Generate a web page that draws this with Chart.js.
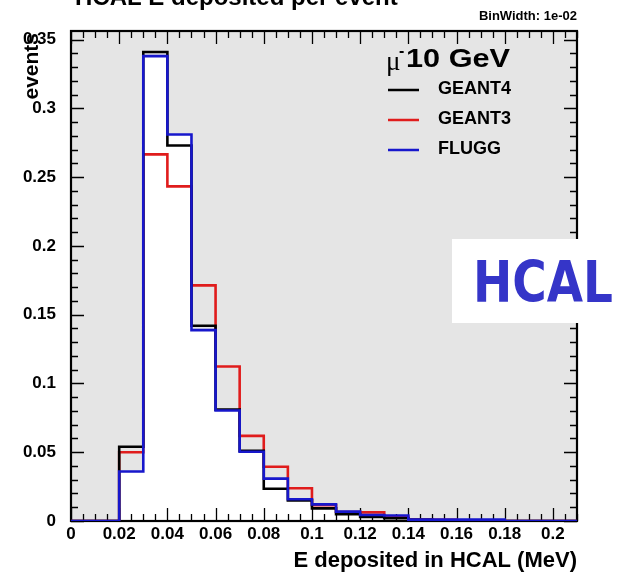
<!DOCTYPE html>
<html>
<head>
<meta charset="utf-8">
<script src="https://cdn.jsdelivr.net/npm/chart.js@4.4.1/dist/chart.umd.min.js"></script>
<style>
  html, body { margin: 0; padding: 0; background: #ffffff; }
  #wrap { width: 619px; height: 576px; position: relative; }
</style>
</head>
<body>
<div id="wrap"><canvas id="c" width="619" height="576"></canvas></div>
<script>
// Bin lower edges (MeV), bin width 0.01
const binEdges = [0.00, 0.01, 0.02, 0.03, 0.04, 0.05, 0.06, 0.07, 0.08, 0.09, 0.10,
                  0.11, 0.12, 0.13, 0.14, 0.15, 0.16, 0.17, 0.18, 0.19, 0.20];
const lastEdge = 0.21;

// Normalised event fractions per bin
const geant4 = [0, 0, 0.054, 0.341, 0.273, 0.142, 0.081, 0.051, 0.0235, 0.015, 0.0092,
                0.005, 0.003, 0.002, 0.0008, 0.0005, 0.0004, 0.0003, 0, 0, 0];
const geant3 = [0, 0, 0.050, 0.2666, 0.2433, 0.1713, 0.1123, 0.0619, 0.0395, 0.0238, 0.0115,
                0.0065, 0.0063, 0.003, 0.001, 0.0008, 0.0005, 0.0003, 0, 0, 0];
const flugg  = [0, 0, 0.036, 0.338, 0.281, 0.1388, 0.0803, 0.0504, 0.0308, 0.0158, 0.0121,
                0.0068, 0.0044, 0.004, 0.001, 0.001, 0.001, 0.001, 0, 0, 0];

const seriesNames = ['GEANT4', 'GEANT3', 'FLUGG'];
const xTickValues = [0, 0.02, 0.04, 0.06, 0.08, 0.10, 0.12, 0.14, 0.16, 0.18, 0.20];
const yTickValues = [0, 0.05, 0.10, 0.15, 0.20, 0.25, 0.30, 0.35];

const COLORS = { GEANT4: '#000000', GEANT3: '#e01c1c', FLUGG: '#1717cc' };
const FONT = '"Liberation Sans", Arial, Helvetica, sans-serif';

// Step outline: one point at each bin's upper edge carrying that bin's value;
// with stepped 'after' the line rises at the lower edge and runs flat to the upper one
function histPoints(values) {
  const pts = [{ x: binEdges[0], y: values[0] }];
  binEdges.forEach((e, i) => {
    const hi = i + 1 < binEdges.length ? binEdges[i + 1] : lastEdge;
    pts.push({ x: hi, y: values[i] });
  });
  return pts;
}

function fmt(v) {
  return String(Number(v.toFixed(3)));
}

// Gray pad inside the frame
const padBackground = {
  id: 'padBackground',
  beforeDraw(chart) {
    const { ctx, chartArea: a } = chart;
    ctx.save();
    ctx.fillStyle = '#ffffff';
    ctx.fillRect(0, 0, chart.width, chart.height);
    ctx.fillStyle = '#e5e5e5';
    ctx.fillRect(a.left, a.top, a.right - a.left, a.bottom - a.top);
    ctx.restore();
  }
};

// Frame with inward-pointing ticks on all four sides (drawn under the histogram lines)
const frameTicks = {
  id: 'frameTicks',
  beforeDatasetsDraw(chart) {
    const { ctx, chartArea: a, scales: { x, y } } = chart;
    ctx.save();
    ctx.strokeStyle = '#000';
    ctx.lineWidth = 1.3;
    ctx.beginPath();
    // x ticks: minor every 0.005, major every 0.02
    for (let k = 0; k <= 42; k++) {
      const v = k * 0.005;
      const px = Math.round(x.getPixelForValue(v)) + 0.5;
      const len = (k % 4 === 0) ? 13 : 7;
      ctx.moveTo(px, a.bottom); ctx.lineTo(px, a.bottom - len);
      ctx.moveTo(px, a.top); ctx.lineTo(px, a.top + len);
    }
    // y ticks: minor every 0.01, major every 0.05
    for (let k = 0; k <= 35; k++) {
      const v = k * 0.01;
      const py = Math.round(y.getPixelForValue(v)) + 0.5;
      const len = (k % 5 === 0) ? 13 : 7;
      ctx.moveTo(a.left, py); ctx.lineTo(a.left + len, py);
      ctx.moveTo(a.right, py); ctx.lineTo(a.right - len, py);
    }
    ctx.stroke();
    ctx.lineWidth = 2.2;
    ctx.strokeRect(a.left, a.top, a.right - a.left, a.bottom - a.top);
    ctx.restore();
  }
};

// Titles, legend and the detector label
const annotations = {
  id: 'annotations',
  afterDraw(chart) {
    const { ctx, chartArea: a } = chart;
    ctx.save();
    ctx.fillStyle = '#000';

    // Histogram title
    ctx.font = 'bold 24px ' + FONT;
    ctx.textAlign = 'left';
    ctx.textBaseline = 'alphabetic';
    ctx.fillText('HCAL E deposited per event', 75, 5);

    // Bin width note
    ctx.font = 'bold 13px ' + FONT;
    ctx.textAlign = 'right';
    ctx.fillText('BinWidth: 1e-02', a.right, 20);

    // Axis titles
    ctx.font = 'bold 22px ' + FONT;
    ctx.textAlign = 'right';
    ctx.fillText('E deposited in HCAL (MeV)', a.right, 567);

    ctx.save();
    ctx.translate(38, a.top + 2);
    ctx.rotate(-Math.PI / 2);
    ctx.font = 'bold 21px ' + FONT;
    ctx.textAlign = 'right';
    ctx.fillText('events', 0, 0);
    ctx.restore();

    // Legend header
    ctx.textAlign = 'left';
    ctx.font = '27px "Liberation Serif", "DejaVu Serif", serif';
    ctx.fillText('\u03bc', 386, 70);
    ctx.font = 'bold 16px ' + FONT;
    ctx.fillText('-', 399, 56);
    ctx.save();
    ctx.font = 'bold 26px ' + FONT;
    const w = ctx.measureText('10 GeV').width;
    ctx.translate(406, 67);
    ctx.scale(104 / w, 1);
    ctx.fillText('10 GeV', 0, 0);
    ctx.restore();

    // Legend entries
    const rows = [90, 120, 150];
    chart.data.datasets.forEach((ds, i) => {
      const yy = rows[i];
      ctx.strokeStyle = ds.borderColor;
      ctx.lineWidth = 2.5;
      ctx.beginPath();
      ctx.moveTo(388, yy); ctx.lineTo(419, yy);
      ctx.stroke();
      ctx.fillStyle = '#000';
      ctx.font = 'bold 18px ' + FONT;
      ctx.textBaseline = 'middle';
      ctx.fillText(ds.label, 438, yy - 1);
    });

    // Detector label box
    ctx.textBaseline = 'alphabetic';
    ctx.fillStyle = '#ffffff';
    ctx.fillRect(452, 239, 167, 84);
    ctx.fillStyle = '#3535c8';
    ctx.save();
    ctx.font = 'bold 57px "DejaVu Sans", sans-serif';
    const hw = ctx.measureText('HCAL').width;
    ctx.translate(473, 302);
    ctx.scale(140 / hw, 1);
    ctx.fillText('HCAL', 0, 0);
    ctx.restore();

    ctx.restore();
  }
};

const datasets = [
  { label: 'GEANT4', data: histPoints(geant4), borderColor: COLORS.GEANT4, order: 1, fill: false },
  { label: 'GEANT3', data: histPoints(geant3), borderColor: COLORS.GEANT3, order: 2, fill: false },
  { label: 'FLUGG',  data: histPoints(flugg),  borderColor: COLORS.FLUGG,  order: 0,
    fill: 'origin', backgroundColor: '#ffffff' }
].map(d => Object.assign({
  stepped: 'after', borderWidth: 2.6, pointRadius: 0, tension: 0,
  borderJoinStyle: 'miter', borderCapStyle: 'butt'
}, d));

new Chart(document.getElementById('c'), {
  type: 'line',
  data: { datasets },
  options: {
    responsive: false,
    animation: false,
    events: [],
    layout: { padding: { top: 31, right: 42, left: 0, bottom: 0 } },
    plugins: {
      legend: { display: false },
      tooltip: { enabled: false },
      filler: { drawTime: 'beforeDatasetsDraw' }
    },
    scales: {
      x: {
        type: 'linear', min: 0, max: lastEdge,
        grid: { display: false }, border: { display: false },
        afterFit(s) { s.height = 55; },
        afterBuildTicks(s) { s.ticks = xTickValues.map(v => ({ value: v })); },
        ticks: {
          includeBounds: false, autoSkip: false, maxRotation: 0, padding: -5,
          color: '#000', font: { family: FONT, size: 17, weight: 'bold' },
          callback: v => fmt(v)
        }
      },
      y: {
        type: 'linear', min: 0, max: 0.3563,
        grid: { display: false }, border: { display: false },
        afterFit(s) { s.width = 71; },
        afterBuildTicks(s) { s.ticks = yTickValues.map(v => ({ value: v })); },
        ticks: {
          includeBounds: false, autoSkip: false, padding: 7,
          color: '#000', font: { family: FONT, size: 17, weight: 'bold' },
          callback: v => fmt(v)
        }
      }
    }
  },
  plugins: [padBackground, frameTicks, annotations]
});
</script>
</body>
</html>
